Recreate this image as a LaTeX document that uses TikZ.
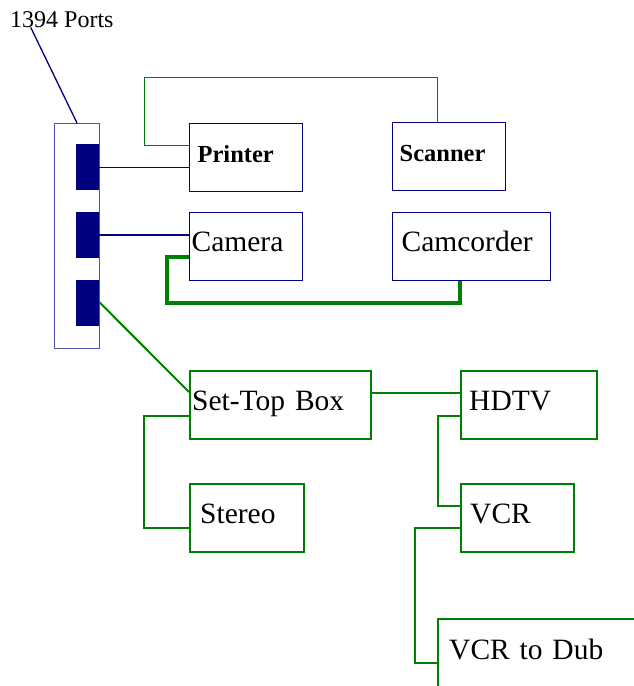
\documentclass[tikz,border=0pt]{standalone}
\usepackage{fontspec}
\setmainfont{Liberation Serif}
\usetikzlibrary{calc}

\definecolor{busblue}{RGB}{0,0,128}
\definecolor{busgreen}{RGB}{0,128,0}
\definecolor{panelblue}{RGB}{80,80,175}

\begin{document}
\begin{tikzpicture}[x=1pt, y=-1pt,
    dev/.style={draw, rectangle, anchor=north west, align=left, inner ysep=0pt,
        minimum height=68pt, text height=20pt, text depth=10pt,
        font=\fontsize{29.5}{30}\selectfont},
    pc dev/.style={dev, draw=busblue, line width=1.3pt},
    pc bold/.style={pc dev, font=\fontsize{24.5}{25}\selectfont\bfseries},
    av dev/.style={dev, draw=busgreen, line width=2.4pt},
    panel/.style={draw=panelblue, line width=1pt, anchor=north west, inner sep=0pt,
        minimum width=45pt, minimum height=225pt},
    port/.style={fill=busblue, anchor=north west, inner sep=0pt,
        minimum width=23pt, minimum height=46pt},
    av link/.style={draw=busgreen, line width=2pt},
]
    \useasboundingbox (0,0) rectangle (634,686);
    \clip (0,0) rectangle (634,686);

    % the 1394 port panel
    \node[anchor=base west, inner sep=0pt, font=\fontsize{24}{25}\selectfont] (ports) at (10,27) {1394 Ports};
    \node[panel] (panel) at (54,123) {};
    \foreach \i/\y in {1/144, 2/212, 3/280}
        \node[port] (port\i) at (76,\y) {};

    % computer side
    \node[pc bold, text width=97pt, inner xsep=8pt] (printer) at (189,123) {Printer};
    \node[pc bold, text width=99pt, inner xsep=7pt] (scanner) at (392,122) {Scanner};
    \node[pc dev, text width=109pt, inner xsep=2pt] (camera) at (189,212) {Camera};
    \node[pc dev, text width=140pt, inner xsep=9pt] (camcorder) at (392,212) {Camcorder};

    % home video side
    \node[av dev, text width=177pt, inner xsep=2pt] (stb) at (189,370) {Set-Top Box};
    \node[av dev, text width=120pt, inner xsep=8pt] (hdtv) at (460,370) {HDTV};
    \node[av dev, text width=94pt, inner xsep=10pt] (stereo) at (189,483) {Stereo};
    \node[av dev, text width=95pt, inner xsep=9pt] (vcr) at (460,483) {VCR};
    \node[av dev, text width=198pt, inner xsep=11pt, minimum height=70pt] (dub) at (437,618) {VCR to Dub};

    \draw[busblue, line width=1.3pt] ($(ports.south west)!0.2!(ports.south east)$) -- (panel.north);
    \draw[busblue, line width=1pt] (port1.east) -- (port1.east -| printer.west);
    \draw[busblue, line width=2pt] (port2.east) -- (port2.east -| camera.west);
    \draw[av link] ($(port3.east)+(0,-1)$) -- ($(stb.north west)+(0,22)$);

    \draw[busgreen, line width=1pt] ($(printer.north west)+(0,22)$) -| ++(-45,-68)
        -| ($(scanner.north west)+(45,0)$);
    \draw[busgreen, line width=3.5pt] ($(camera.north west)+(0,45)$) -| ++(-22,46)
        -| ($(camcorder.south west)+(68,0)$);

    \draw[av link] ($(stb.north east)+(0,23)$) -- ($(hdtv.north west)+(0,23)$);
    \draw[av link] ($(stb.north west)+(0,46)$) -- ++(-45,0) |- ($(stereo.north west)+(0,45)$);
    \draw[av link] ($(hdtv.north west)+(0,46)$) -- ++(-22,0) |- ($(vcr.north west)+(0,23)$);
    \draw[av link] ($(vcr.north west)+(0,45)$) -- ++(-45,0) |- ($(dub.north west)+(0,45)$);
\end{tikzpicture}
\end{document}
